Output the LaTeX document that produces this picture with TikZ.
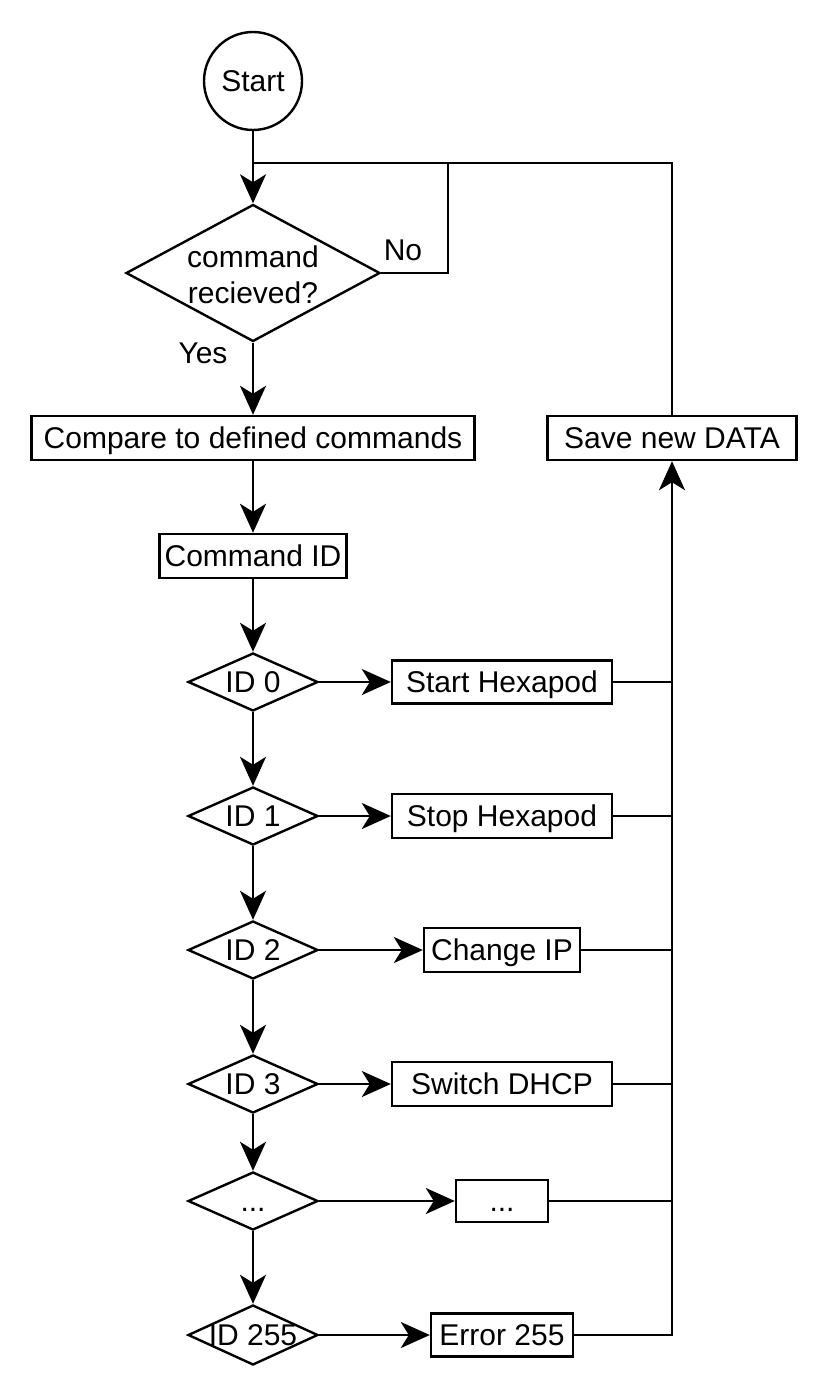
\documentclass[tikz,border=0pt]{standalone}
\usepackage{fontspec}
\setmainfont{Liberation Sans}
\usetikzlibrary{arrows.meta,shapes.geometric}
\begin{document}
\begin{tikzpicture}[x=1pt,y=-1pt,
  every node/.style={font=\fontsize{30}{36}\selectfont, text height=26.5pt, text depth=6pt, inner sep=0pt},
  box/.style={draw, rectangle, line width=2.4pt, minimum height=44pt},
  dia/.style={draw, diamond, line width=2.4pt},
  ln/.style={line width=2.4pt},
  arr/.style={line width=2.4pt, -{Stealth[length=29pt,width=26pt,inset=8pt]}}]
\useasboundingbox (0,0) rectangle (827,1397);

% nodes
\node[draw, circle, line width=2.4pt, minimum size=98pt] (start) at (253,81) {Start};
\node[dia, minimum width=254pt, minimum height=137pt] (q) at (253,273) {};
\node (qt1) at (253,257) {command};
\node (qt2) at (253,293) {recieved?};
\node (nolab) at (403,250) {No};
\node (yeslab) at (203,353) {Yes};

\node[box, minimum width=443pt] (cmp) at (253,438) {Compare to defined commands};
\node[box, minimum width=187pt] (cid) at (253,556) {Command ID};
\node[box, minimum width=249pt] (save) at (672,438) {Save new DATA};

\node[dia, minimum width=130pt, minimum height=58pt] (d0) at (253,682) {};
\node (d0t) at (d0) {ID 0};
\node[box, minimum width=220pt, minimum height=43pt] (b0) at (502,682) {Start Hexapod};

\node[dia, minimum width=130pt, minimum height=58pt] (d1) at (253,816) {};
\node (d1t) at (d1) {ID 1};
\node[box, minimum width=220pt] (b1) at (502,816) {Stop Hexapod};

\node[dia, minimum width=130pt, minimum height=58pt] (d2) at (253,950) {};
\node (d2t) at (d2) {ID 2};
\node[box, minimum width=156pt] (b2) at (502,950) {Change IP};

\node[dia, minimum width=130pt, minimum height=58pt] (d3) at (253,1084) {};
\node (d3t) at (d3) {ID 3};
\node[box, minimum width=220pt] (b3) at (502,1084) {Switch DHCP};

\node[dia, minimum width=130pt, minimum height=58pt] (d4) at (253,1201) {};
\node (d4t) at (d4) {...};
\node[box, minimum width=92pt, minimum height=42pt] (b4) at (502,1201) {...};

\node[dia, minimum width=130pt, minimum height=60pt] (d5) at (253,1335) {};
\node (d5t) at (d5) {ID 255};
\node[box, minimum width=142pt, minimum height=43pt] (b5) at (502,1335) {Error 255};

\coordinate (jn) at (253,163);
\coordinate (nr) at (448,163);
\coordinate (rx) at (672,1335);

% connectors
\draw[ln] (start.south) -- (jn);
\draw[arr] (jn) -- (q.north);
\draw[ln] (q.east) -| (nr);
\draw[ln] (save.north) |- (jn);
\draw[arr] (q.south) -- (cmp.north);
\draw[arr] (cmp) -- (cid);
\draw[arr] (cid) -- (d0);
\draw[arr] (d0) -- (d1);
\draw[arr] (d1) -- (d2);
\draw[arr] (d2) -- (d3);
\draw[arr] (d3) -- (d4);
\draw[arr] (d4) -- (d5);

\draw[arr] (d0) -- (b0);
\draw[arr] (d1) -- (b1);
\draw[arr] (d2) -- (b2);
\draw[arr] (d3) -- (b3);
\draw[arr] (d4) -- (b4);
\draw[arr] (d5) -- (b5);

\draw[ln] (b0.east) -- (b0.east -| rx);
\draw[ln] (b1.east) -- (b1.east -| rx);
\draw[ln] (b2.east) -- (b2.east -| rx);
\draw[ln] (b3.east) -- (b3.east -| rx);
\draw[ln] (b4.east) -- (b4.east -| rx);
\draw[arr] (b5.east) -| (save.south);
\end{tikzpicture}
\end{document}
